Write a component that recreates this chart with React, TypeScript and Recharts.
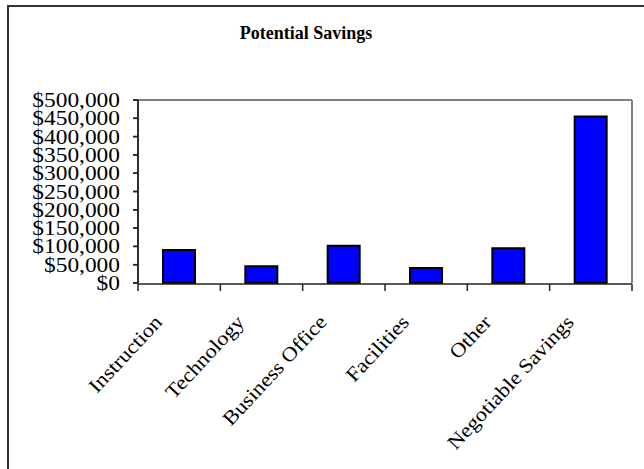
import { Bar, BarChart, XAxis, YAxis, ReferenceLine } from 'recharts'

const categories = ['Instruction', 'Technology', 'Business Office', 'Facilities', 'Other', 'Negotiable Savings']
const savings = [90000, 46000, 102000, 41000, 95000, 455000]
const yTicks = [0, 50000, 100000, 150000, 200000, 250000, 300000, 350000, 400000, 450000, 500000]
const edgeTicks = [0, 1, 2, 3, 4, 5, 6]

// pos = slot centre on the numeric edge axis (used only for the boundary tick marks)
const data = categories.map((name, i) => ({ name, value: savings[i], pos: i + 0.5 }))

const serif = '"Liberation Serif", "Times New Roman", serif'

const money = (v: number) => '$' + v.toLocaleString('en-US')

// y labels are drawn a bit wider than the plain font; the short outward mark is drawn with them
function YTick(props: any) {
  const x = Number(props.x)
  const y = Number(props.y)
  return (
    <g transform={`translate(${x},${y})`}>
      <rect x={13} y={-0.75} width={5.5} height={1.5} fill="#222" />
      <text
        transform="scale(1.17,1)"
        textAnchor="end"
        dy="0.35em"
        fontFamily={serif}
        fontSize={20}
        fill="#000"
      >
        {money(props.payload.value)}
      </text>
    </g>
  )
}

function XTick(props: any) {
  const x = Number(props.x)
  const y = Number(props.y)
  return (
    <text
      transform={`translate(${x - 16},${y + 40}) rotate(-47) scale(1.12,1)`}
      textAnchor="end"
      fontFamily={serif}
      fontSize={20}
      fill="#000"
    >
      {props.payload.value}
    </text>
  )
}

export default function App() {
  return (
    <div
      style={{
        position: 'absolute',
        left: 0,
        top: 0,
        width: 644,
        height: 469,
        overflow: 'hidden',
        background: '#fff',
      }}
    >
      <div
        style={{
          position: 'absolute',
          left: 7,
          top: 5,
          width: 700,
          height: 520,
          borderLeft: '2px solid #333',
          borderTop: '2px solid #333',
        }}
      />
      <div
        style={{
          position: 'absolute',
          left: 0,
          top: 23,
          width: 612,
          textAlign: 'center',
          fontFamily: serif,
          fontWeight: 'bold',
          fontSize: 18,
          lineHeight: '20px',
        }}
      >
        Potential Savings
      </div>
      <div style={{ position: 'absolute', left: 0, top: 0 }}>
        <BarChart
          width={644}
          height={469}
          data={data}
          margin={{ top: 100, right: 12, left: 8, bottom: 0 }}
          barSize={32}
        >
          <XAxis
            xAxisId="cat"
            dataKey="name"
            height={1}
            interval={0}
            tickSize={0}
            tickMargin={0}
            axisLine={false}
            tickLine={false}
            tick={(p: any) => <XTick {...p} />}
          />
          <XAxis
            xAxisId="edge"
            dataKey="pos"
            type="number"
            domain={[0, 6]}
            ticks={edgeTicks}
            interval={0}
            allowDataOverflow
            height={185}
            tickSize={7}
            tickFormatter={() => ''}
            stroke="#222"
            strokeWidth={1.5}
          />
          <YAxis
            width={130}
            domain={[0, 500000]}
            ticks={yTicks}
            interval={0}
            tickSize={5}
            tickMargin={13}
            stroke="#222"
            strokeWidth={1.5}
            tickLine={{ stroke: '#222', strokeWidth: 1.5 }}
            axisLine={{ stroke: '#222', strokeWidth: 1.5 }}
            tick={(p: any) => <YTick {...p} />}
          />
          <ReferenceLine x={0} xAxisId="edge" stroke="#222" strokeWidth={1.5} />
          <ReferenceLine y={500000} xAxisId="edge" stroke="#808080" strokeWidth={2} />
          <ReferenceLine x={6} xAxisId="edge" stroke="#808080" strokeWidth={2} />
          <Bar
            xAxisId="cat"
            dataKey="value"
            fill="#0000FF"
            stroke="#000"
            strokeWidth={2}
            isAnimationActive={false}
          />
        </BarChart>
      </div>
    </div>
  )
}
